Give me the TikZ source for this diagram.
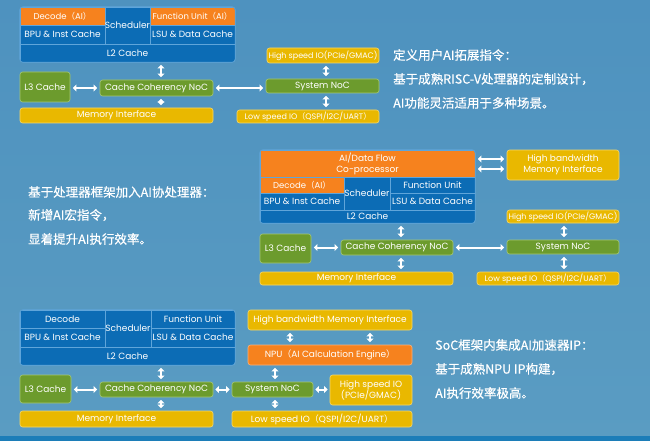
\documentclass[tikz,border=0pt]{standalone}
\usepackage{fontspec}
\usetikzlibrary{arrows.meta}
\newfontfamily\labf{Poppins}
\newfontfamily\cjk{Noto Sans CJK SC}[FakeBold=0.4]
\newfontfamily\cjkp{Noto Sans CJK SC}
\definecolor{bgA}{HTML}{4E92BF}
\definecolor{bgB}{HTML}{67A7C9}
\definecolor{bgC}{HTML}{5A9CC2}
\definecolor{band}{HTML}{1C7DB8}
\definecolor{cblue}{HTML}{0C6CB5}
\definecolor{corange}{HTML}{F6821E}
\definecolor{cgreen}{HTML}{6C9B2D}
\definecolor{cyellow}{HTML}{E9B800}
\definecolor{cellline}{HTML}{5FA5DA}
\definecolor{gline}{HTML}{A5C873}
\definecolor{yline}{HTML}{F6D86A}
\definecolor{oline}{HTML}{FBB27A}
\newcommand\lp{{\cjkp （}}
\newcommand\rp{{\cjkp ）}}
\newcommand\bx[7]{\node[#1, minimum width={(#5)-(#3)}, minimum height={(#6)-(#4)}] (#2) at ({((#3)+(#5))/2},{((#4)+(#6))/2}) {#7};}
\tikzset{
  lab/.style={text=white, inner sep=0pt, align=center, font={\labf\fontsize{9}{11}\selectfont}},
  labs/.style={font={\labf\fontsize{8}{9.5}\selectfont}},
  labm/.style={font={\labf\fontsize{8.5}{10}\selectfont}},
  cell/.style={lab, fill=#1, draw=cellline, line width=0.5pt},
  gbox/.style={lab, fill=cgreen, draw=gline, line width=0.6pt, rounded corners=2.5pt},
  ybox/.style={lab, fill=cyellow, draw=yline, line width=0.6pt, rounded corners=2.5pt},
  obox/.style={lab, fill=corange, draw=oline, line width=0.6pt, rounded corners=2.5pt},
  blockline/.style={draw=cellline, line width=0.6pt, rounded corners=3pt},
  dar/.style={draw=white, line width=2pt, {Triangle[length=3.6pt,width=6.8pt]}-{Triangle[length=3.6pt,width=6.8pt]}, shorten <=2.5pt, shorten >=2.5pt},
  txt/.style={text=white, anchor=west, inner sep=0pt, font={\cjk\fontsize{12.5}{14}\selectfont}}
}
\begin{document}
\begin{tikzpicture}[x=1pt,y=-1pt]
\useasboundingbox (0,0) rectangle (650,441);
\shade[top color=bgA, middle color=bgB, bottom color=bgC] (0,0) rectangle (650,441);
\fill[band] (0,436) rectangle (650,441);

% ---------------- Diagram 1 ----------------
\begin{scope}
\clip[rounded corners=3pt] (20,7) rectangle (235,62);
\bx{cell=corange, labm}{d1dec}{20}{7}{105}{25}{Decode\lp AI\rp}
\bx{cell=cblue}{d1sch}{105}{7}{150}{44}{Scheduler}
\bx{cell=corange, labm}{d1fu}{150}{7}{235}{25}{Function Unit\lp AI\rp}
\bx{cell=cblue}{d1bpu}{20}{25}{105}{44}{BPU \& Inst Cache}
\bx{cell=cblue}{d1lsu}{150}{25}{235}{44}{LSU \& Data Cache}
\bx{cell=cblue}{d1l2}{20}{44}{235}{62}{L2 Cache}
\end{scope}
\draw[blockline] (d1dec.north west) rectangle (d1l2.south east);
\bx{gbox}{d1l3}{20}{72}{70}{102}{L3 Cache}
\bx{gbox}{d1cc}{100}{80}{213}{96}{Cache Coherency NoC}
\bx{ybox}{d1mem}{20}{108}{213}{123}{Memory Interface}
\bx{ybox, labs}{d1hs}{267}{48}{379}{63}{High speed IO(PCIe/GMAC)}
\bx{gbox}{d1sys}{266}{79}{379}{93}{System NoC}
\bx{ybox, labs}{d1ls}{237}{110}{379}{123}{Low speed IO\lp QSPI/I2C/UART\rp}
\coordinate (d1v1) at (161,0);
\coordinate (d1v2) at (326,0);
\draw[dar] (d1l2.south -| d1v1) -- (d1cc.north -| d1v1);
\draw[dar] (d1cc.south -| d1v1) -- (d1mem.north -| d1v1);
\draw[dar] (d1l3.east |- d1cc.west) -- (d1cc.west);
\draw[dar] (d1cc.east) -- (d1sys.west |- d1cc.east);
\draw[dar] (d1hs.south -| d1v2) -- (d1sys.north -| d1v2);
\draw[dar] (d1sys.south -| d1v2) -- (d1ls.north -| d1v2);
\node[txt] (t1a) at (393,55) {定义用户AI拓展指令：};
\node[txt] (t1b) at (393,79) {基于成熟RISC-V处理器的定制设计，};
\node[txt] (t1c) at (393,103) {AI功能灵活适用于多种场景。};

% ---------------- Diagram 2 ----------------
\begin{scope}
\clip[rounded corners=3pt] (260,150) rectangle (475,223);
\bx{cell=corange}{d2cop}{260}{150}{475}{177}{AI/Data Flow\\Co-processor}
\bx{cell=corange, labm}{d2dec}{260}{177}{344}{193}{Decode\lp AI\rp}
\bx{cell=cblue}{d2sch}{344}{177}{390}{210}{Scheduler}
\bx{cell=cblue}{d2fu}{390}{177}{475}{193}{Function Unit}
\bx{cell=cblue}{d2bpu}{260}{193}{344}{210}{BPU \& Inst Cache}
\bx{cell=cblue}{d2lsu}{390}{193}{475}{210}{LSU \& Data Cache}
\bx{cell=cblue}{d2l2}{260}{210}{475}{223}{L2 Cache}
\end{scope}
\draw[blockline] (d2cop.north west) rectangle (d2l2.south east);
\bx{ybox}{d2hbm}{507}{150}{619}{180}{High bandwidth\\Memory Interface}
\bx{ybox, labs}{d2hs}{507}{210}{619}{223}{High speed IO(PCIe/GMAC)}
\bx{gbox}{d2sys}{507}{240}{619}{254}{System NoC}
\bx{ybox, labs}{d2ls}{477}{272}{619}{285}{Low speed IO\lp QSPI/I2C/UART\rp}
\bx{gbox}{d2l3}{260}{234}{311}{263}{L3 Cache}
\bx{gbox}{d2cc}{341}{240}{453}{255}{Cache Coherency NoC}
\bx{ybox}{d2mem}{260}{272}{453}{285}{Memory Interface}
\coordinate (d2v1) at (401,0);
\coordinate (d2v2) at (564,0);
\coordinate (d2h1) at (0,159);
\coordinate (d2h2) at (0,169);
\draw[dar] (d2cop.east |- d2h1) -- (d2hbm.west |- d2h1);
\draw[dar] (d2cop.east |- d2h2) -- (d2hbm.west |- d2h2);
\draw[dar] (d2l2.south -| d2v1) -- (d2cc.north -| d2v1);
\draw[dar] (d2cc.south -| d2v1) -- (d2mem.north -| d2v1);
\draw[dar] (d2l3.east |- d2cc.west) -- (d2cc.west);
\draw[dar] (d2cc.east) -- (d2sys.west |- d2cc.east);
\draw[dar] (d2hs.south -| d2v2) -- (d2sys.north -| d2v2);
\draw[dar] (d2sys.south -| d2v2) -- (d2ls.north -| d2v2);
\node[txt] (t2a) at (28,192) {基于处理器框架加入AI协处理器：};
\node[txt] (t2b) at (28,215) {新增AI宏指令，};
\node[txt] (t2c) at (28,239) {显着提升AI执行效率。};

% ---------------- Diagram 3 ----------------
\begin{scope}
\clip[rounded corners=3pt] (20,310) rectangle (235,365);
\bx{cell=cblue}{d3dec}{20}{310}{105}{328}{Decode}
\bx{cell=cblue}{d3sch}{105}{310}{151}{347}{Scheduler}
\bx{cell=cblue}{d3fu}{151}{310}{235}{328}{Function Unit}
\bx{cell=cblue}{d3bpu}{20}{328}{105}{347}{BPU \& Inst Cache}
\bx{cell=cblue}{d3lsu}{151}{328}{235}{347}{LSU \& Data Cache}
\bx{cell=cblue}{d3l2}{20}{347}{235}{365}{L2 Cache}
\end{scope}
\draw[blockline] (d3dec.north west) rectangle (d3l2.south east);
\bx{ybox}{d3hbm}{248}{310}{412}{330}{High bandwidth Memory Interface}
\bx{obox}{d3npu}{248}{345}{412}{365}{NPU\lp AI Calculation Engine\rp}
\bx{gbox}{d3sys}{232}{382}{313}{397}{System NoC}
\bx{ybox}{d3hs}{330}{375}{412}{405}{High speed IO\\(PCIe/GMAC)}
\bx{ybox}{d3ls}{232}{411}{412}{427}{Low speed IO\lp QSPI/I2C/UART\rp}
\bx{gbox}{d3l3}{20}{375}{71}{403}{L3 Cache}
\bx{gbox}{d3cc}{100}{382}{213}{397}{Cache Coherency NoC}
\bx{ybox}{d3mem}{20}{411}{213}{427}{Memory Interface}
\coordinate (d3v1) at (161,0);
\coordinate (d3v2) at (275,0);
\coordinate (d3v3) at (290,0);
\coordinate (d3v4) at (370,0);
\draw[dar] (d3hbm.south -| d3v3) -- (d3npu.north -| d3v3);
\draw[dar] (d3hbm.south -| d3v4) -- (d3npu.north -| d3v4);
\draw[dar] (d3npu.south -| d3v2) -- (d3sys.north -| d3v2);
\draw[dar] (d3sys.south -| d3v2) -- (d3ls.north -| d3v2);
\draw[dar] (d3l2.south -| d3v1) -- (d3cc.north -| d3v1);
\draw[dar] (d3cc.south -| d3v1) -- (d3mem.north -| d3v1);
\draw[dar] (d3l3.east |- d3cc.west) -- (d3cc.west);
\draw[dar, shorten <=2pt, shorten >=2pt] (d3cc.east) -- (d3sys.west);
\draw[dar, shorten <=2pt, shorten >=2pt] (d3sys.east) -- (d3hs.west |- d3sys.east);
\node[txt] (t3a) at (435,345) {SoC框架内集成AI加速器IP：};
\node[txt] (t3b) at (435,369) {基于成熟NPU IP构建，};
\node[txt] (t3c) at (435,393) {AI执行效率极高。};
\end{tikzpicture}
\end{document}
